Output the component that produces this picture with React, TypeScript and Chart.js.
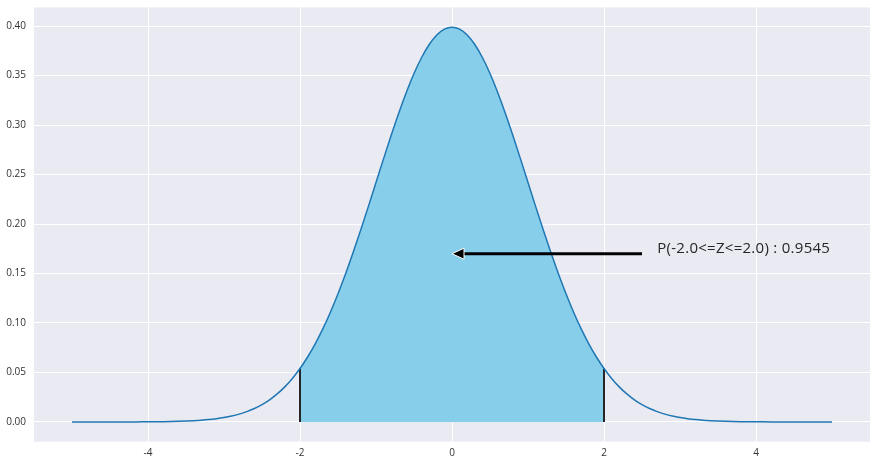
import React, { useEffect, useRef } from "react";
import { Chart, registerables } from "chart.js";

Chart.register(...registerables);

// x positions
const xValues = [
  -5.0, -4.9, -4.8, -4.7, -4.6, -4.5, -4.4, -4.3, -4.2, -4.1,
  -4.0, -3.9, -3.8, -3.7, -3.6, -3.5, -3.4, -3.3, -3.2, -3.1,
  -3.0, -2.9, -2.8, -2.7, -2.6, -2.5, -2.4, -2.3, -2.2, -2.1,
  -2.0, -1.9, -1.8, -1.7, -1.6, -1.5, -1.4, -1.3, -1.2, -1.1,
  -1.0, -0.9, -0.8, -0.7, -0.6, -0.5, -0.4, -0.3, -0.2, -0.1,
  0.0, 0.1, 0.2, 0.3, 0.4, 0.5, 0.6, 0.7, 0.8, 0.9,
  1.0, 1.1, 1.2, 1.3, 1.4, 1.5, 1.6, 1.7, 1.8, 1.9,
  2.0, 2.1, 2.2, 2.3, 2.4, 2.5, 2.6, 2.7, 2.8, 2.9,
  3.0, 3.1, 3.2, 3.3, 3.4, 3.5, 3.6, 3.7, 3.8, 3.9,
  4.0, 4.1, 4.2, 4.3, 4.4, 4.5, 4.6, 4.7, 4.8, 4.9,
  5.0,
];
// density values read at those positions
const densityValues = [
  0.0, 0.0, 0.0, 0.00001, 0.00001, 0.00002, 0.00002, 0.00004, 0.00006, 0.00009,
  0.00013, 0.0002, 0.00029, 0.00042, 0.00061, 0.00087, 0.00123, 0.00172, 0.00238, 0.00327,
  0.00443, 0.00595, 0.00792, 0.01042, 0.01358, 0.01753, 0.02239, 0.02833, 0.03547, 0.04398,
  0.05399, 0.06562, 0.07895, 0.09405, 0.11092, 0.12952, 0.14973, 0.17137, 0.19419, 0.21785,
  0.24197, 0.26609, 0.28969, 0.31225, 0.33322, 0.35207, 0.36827, 0.38139, 0.39104, 0.39695,
  0.39894, 0.39695, 0.39104, 0.38139, 0.36827, 0.35207, 0.33322, 0.31225, 0.28969, 0.26609,
  0.24197, 0.21785, 0.19419, 0.17137, 0.14973, 0.12952, 0.11092, 0.09405, 0.07895, 0.06562,
  0.05399, 0.04398, 0.03547, 0.02833, 0.02239, 0.01753, 0.01358, 0.01042, 0.00792, 0.00595,
  0.00443, 0.00327, 0.00238, 0.00172, 0.00123, 0.00087, 0.00061, 0.00042, 0.00029, 0.0002,
  0.00013, 0.00009, 0.00006, 0.00004, 0.00002, 0.00002, 0.00001, 0.00001, 0.0, 0.0,
  0.0,
];
const shadeBounds = [-2, 2];
const xTickValues = [-4, -2, 0, 2, 4];
const yTickValues = [0, 0.05, 0.1, 0.15, 0.2, 0.25, 0.3, 0.35, 0.4];
const arrowFrom = [2.5, 0.17];
const arrowTo = [0, 0.17];
const labelPos = [2.7, 0.17];
const labelText = "P(-2.0<=Z<=2.0) : 0.9545";

const FONT = "'Open Sans', 'Noto Sans', sans-serif";

export default function App() {
  const ref = useRef<HTMLCanvasElement | null>(null);

  useEffect(() => {
    const canvas = ref.current;
    if (!canvas) return;

    const curve = xValues.map((x, i) => ({ x, y: densityValues[i] }));
    const shaded = curve.filter(
      (p) => p.x >= shadeBounds[0] - 1e-9 && p.x <= shadeBounds[1] + 1e-9
    );
    const vlines = shadeBounds.map((b) => {
      const i = xValues.findIndex((x) => Math.abs(x - b) < 1e-9);
      return [
        { x: b, y: 0 },
        { x: b, y: densityValues[i] },
      ];
    });

    const bgPlugin = {
      id: "bg",
      beforeDraw(chart: any) {
        const { ctx, chartArea: a } = chart;
        ctx.save();
        ctx.fillStyle = "#EAEAF2";
        ctx.fillRect(a.left, a.top, a.right - a.left, a.bottom - a.top);
        ctx.restore();
      },
    };

    const annotPlugin = {
      id: "annot",
      afterDatasetsDraw(chart: any) {
        const { ctx } = chart;
        const xs = chart.scales.x;
        const ys = chart.scales.y;
        const x0 = xs.getPixelForValue(arrowFrom[0]);
        const y0 = ys.getPixelForValue(arrowFrom[1]);
        const x1 = xs.getPixelForValue(arrowTo[0]);
        const y1 = ys.getPixelForValue(arrowTo[1]);
        const headLen = 12;
        const headHalf = 5.5;
        ctx.save();
        ctx.strokeStyle = "#000";
        ctx.lineWidth = 3;
        ctx.beginPath();
        ctx.moveTo(x0, y0);
        ctx.lineTo(x1 + headLen - 1, y1);
        ctx.stroke();
        ctx.beginPath();
        ctx.moveTo(x1, y1);
        ctx.lineTo(x1 + headLen, y1 - headHalf);
        ctx.lineTo(x1 + headLen, y1 + headHalf);
        ctx.closePath();
        ctx.fillStyle = "#000";
        ctx.fill();
        ctx.lineWidth = 1;
        ctx.strokeStyle = "#fff";
        ctx.stroke();

        ctx.fillStyle = "#262626";
        ctx.font = `15px ${FONT}`;
        ctx.textAlign = "left";
        ctx.textBaseline = "alphabetic";
        const tx = xs.getPixelForValue(labelPos[0]);
        const ty = ys.getPixelForValue(labelPos[1]) - 1;
        const txt = labelText;
        const target = 173;
        const w = ctx.measureText(txt).width;
        if (w < target) {
          (ctx as any).letterSpacing = `${(target - w) / txt.length}px`;
        }
        ctx.fillText(txt, tx, ty);
        ctx.restore();
      },
    };

    const chart = new Chart(canvas, {
      type: "line",
      data: {
        datasets: [
          {
            data: curve,
            borderColor: "#1f77b4",
            borderWidth: 1.5,
            pointRadius: 0,
            fill: false,
            cubicInterpolationMode: "monotone",
            order: 0,
          },
          ...vlines.map((v) => ({
            data: v,
            borderColor: "#262626",
            borderWidth: 2,
            pointRadius: 0,
            fill: false,
            order: 1,
          })),
          {
            data: shaded,
            borderWidth: 0,
            borderColor: "rgba(0,0,0,0)",
            backgroundColor: "#87CEEB",
            pointRadius: 0,
            fill: "origin",
            cubicInterpolationMode: "monotone",
            order: 2,
          },
        ] as any,
      },
      options: {
        animation: false,
        responsive: false,
        events: [],
        layout: { padding: { top: 7.5, right: 7, left: 0, bottom: 0 } },
        plugins: {
          legend: { display: false },
          tooltip: { enabled: false },
        },
        scales: {
          x: {
            type: "linear",
            min: -5.5,
            max: 5.5,
            border: { display: false },
            grid: { color: "#ffffff", lineWidth: 1, drawTicks: false },
            afterBuildTicks(scale: any) {
              scale.ticks = xTickValues.map((v) => ({ value: v }));
            },
            afterFit(scale: any) {
              scale.height = 23.3;
              scale.paddingLeft = 0;
              scale.paddingRight = 0;
              scale.paddingTop = 0;
              scale.paddingBottom = 0;
            },
            ticks: {
              padding: 5,
              color: "#333",
              font: { family: FONT, size: 10 },
              callback: (v: any) => String(v),
            },
          },
          y: {
            type: "linear",
            min: -0.01995,
            max: 0.4188,
            border: { display: false },
            grid: { color: "#ffffff", lineWidth: 1, drawTicks: false },
            afterBuildTicks(scale: any) {
              scale.ticks = yTickValues.map((v) => ({ value: v }));
            },
            afterFit(scale: any) {
              scale.width = 34;
              scale.paddingLeft = 0;
              scale.paddingRight = 0;
              scale.paddingTop = 0;
              scale.paddingBottom = 0;
            },
            ticks: {
              padding: 8,
              color: "#333",
              font: { family: FONT, size: 10 },
              callback: (v: any) => Number(v).toFixed(2),
            },
          },
        },
      } as any,
      plugins: [bgPlugin, annotPlugin],
    });

    return () => chart.destroy();
  }, []);

  return (
    <div style={{ position: "absolute", left: 0, top: 0, width: 877, height: 465, background: "#fff" }}>
      <canvas ref={ref} width={877} height={465} />
    </div>
  );
}
